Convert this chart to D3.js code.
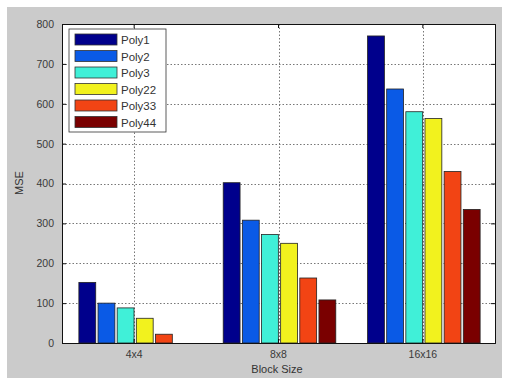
<!DOCTYPE html>
<html>
<head>
<meta charset="utf-8">
<script src="https://cdn.jsdelivr.net/npm/d3@7/dist/d3.min.js"></script>
<style>
  html, body { margin: 0; padding: 0; background: #ffffff; }
  svg { display: block; font-family: "Liberation Sans", Arial, sans-serif; }
</style>
</head>
<body>
<svg id="chart" width="508" height="381"></svg>
<script>
// Mean squared error by block size for each polynomial model
const blockSizes = ["4x4", "8x8", "16x16"];
const seriesNames = ["Poly1", "Poly2", "Poly3", "Poly22", "Poly33", "Poly44"];
const poly1  = [152, 402, 770];
const poly2  = [100, 308, 637];
const poly3  = [88, 272, 580];
const poly22 = [62, 250, 563];
const poly33 = [22, 163, 430];
const poly44 = [0, 108, 335];
const seriesColors = ["#00008c", "#0a5ae6", "#40f0d8", "#f2f21e", "#f24414", "#7a0000"];
const yTicks = [0, 100, 200, 300, 400, 500, 600, 700, 800];

const seriesValues = [poly1, poly2, poly3, poly22, poly33, poly44];

const svg = d3.select("#chart");
const plot = { left: 62, right: 495, top: 24, bottom: 343 };

// figure background
svg.append("rect").attr("x", 7).attr("y", 7).attr("width", 495).attr("height", 371)
  .attr("fill", "#cbcbcb");

// axes background
svg.append("rect").attr("x", plot.left).attr("y", plot.top)
  .attr("width", plot.right - plot.left).attr("height", plot.bottom - plot.top)
  .attr("fill", "#ffffff");

const x = d3.scaleBand().domain(blockSizes).range([plot.left, plot.right]).paddingInner(0).paddingOuter(0);
const y = d3.scaleLinear().domain([0, 800]).range([plot.bottom, plot.top]);

// bars within each group
const groupFrac = 0.78;
const xInner = d3.scaleBand().domain(seriesNames).range([0, x.bandwidth() * groupFrac]).paddingInner(0.12).paddingOuter(0);

// grid lines
const grid = svg.append("g").attr("stroke", "#777").attr("stroke-width", 1).attr("stroke-dasharray", "1.5,2");
yTicks.forEach(t => {
  grid.append("line").attr("x1", plot.left).attr("x2", plot.right)
    .attr("y1", Math.round(y(t)) + 0.5).attr("y2", Math.round(y(t)) + 0.5);
});
blockSizes.forEach(c => {
  const cx = Math.round(x(c) + x.bandwidth() / 2) + 0.5;
  grid.append("line").attr("x1", cx).attr("x2", cx).attr("y1", plot.top).attr("y2", plot.bottom);
});

// bars
const groups = svg.append("g").selectAll("g").data(blockSizes).join("g")
  .attr("transform", c => `translate(${x(c) + x.bandwidth() * (1 - groupFrac) / 2 + 1},0)`);
groups.selectAll("rect")
  .data((c, i) => seriesNames.map((s, k) => ({ s, k, v: seriesValues[k][i] })).filter(d => d.v > 0))
  .join("rect")
  .attr("x", d => xInner(d.s))
  .attr("width", xInner.bandwidth())
  .attr("y", d => y(d.v))
  .attr("height", d => y(0) - y(d.v))
  .attr("fill", d => seriesColors[d.k])
  .attr("stroke", "#222")
  .attr("stroke-width", 0.8);

// axes
const yAxisL = d3.axisLeft(y).tickValues(yTicks).tickSize(-4).tickPadding(8);
const yAxisR = d3.axisRight(y).tickValues(yTicks).tickSize(-4).tickFormat("");
const xAxisB = d3.axisBottom(x).tickSize(-4).tickPadding(8);
const xAxisT = d3.axisTop(x).tickSize(-4).tickFormat("");

function styleAxis(g) {
  g.select(".domain").attr("stroke", "#111");
  g.selectAll(".tick line").attr("stroke", "#111");
  g.selectAll(".tick text").attr("fill", "#3a3a3a").attr("font-size", 10.5);
}
svg.append("g").attr("transform", `translate(${plot.left},0)`).call(yAxisL).call(styleAxis);
svg.append("g").attr("transform", `translate(${plot.right},0)`).call(yAxisR).call(styleAxis);
svg.append("g").attr("transform", `translate(0,${plot.bottom})`).call(xAxisB).call(styleAxis);
svg.append("g").attr("transform", `translate(0,${plot.top})`).call(xAxisT).call(styleAxis);

// axis titles
svg.append("text").attr("x", 277).attr("y", 373).attr("text-anchor", "middle")
  .attr("font-size", 11).attr("fill", "#333").text("Block Size");
svg.append("text").attr("transform", "translate(23,183) rotate(-90)").attr("text-anchor", "middle")
  .attr("font-size", 11).attr("fill", "#333").text("MSE");

// legend
const legend = svg.append("g").attr("transform", "translate(69,29)");
legend.append("rect").attr("width", 97).attr("height", 103)
  .attr("fill", "#ffffff").attr("stroke", "#333").attr("stroke-width", 0.8);
seriesNames.forEach((s, k) => {
  const ry = 5 + k * 16.5;
  legend.append("rect").attr("x", 6).attr("y", ry).attr("width", 42).attr("height", 11)
    .attr("fill", seriesColors[k]).attr("stroke", "#333").attr("stroke-width", 0.8);
  legend.append("text").attr("x", 52).attr("y", ry + 10).attr("font-size", 11.5)
    .attr("fill", "#333").text(s);
});
</script>
</body>
</html>
